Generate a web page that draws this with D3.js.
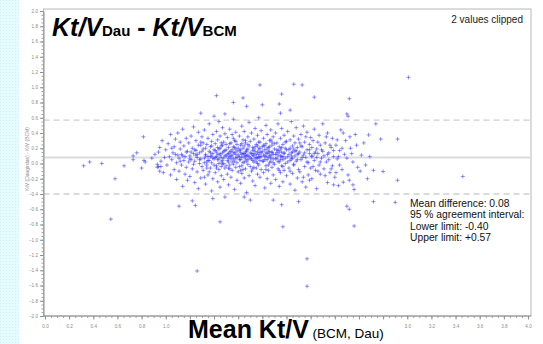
<!DOCTYPE html>
<html>
<head>
<meta charset="utf-8">
<script src="https://cdn.jsdelivr.net/npm/d3@7"></script>
<style>
  html, body { margin: 0; padding: 0; background: #fff; }
  svg { display: block; font-family: Arial, "Liberation Sans", sans-serif; }
</style>
</head>
<body>
<div id="chart"></div>
<script>
// Bland-Altman: Kt/V Daugirdas vs BCM
const meanDiff = 0.08;
const lowerLimit = -0.40;
const upperLimit = 0.57;
const statLines = [
  'Mean difference: 0.08',
  '95 % agreement interval:',
  'Lower limit:  -0.40',
  'Upper limit: +0.57'
];
// labels hidden under the axis title in the original are left out
const xTicks = [0.0, 0.2, 0.4, 0.6, 0.8, 1.0, 3.0, 3.2, 3.4, 3.6, 3.8, 4.0];
const xTickMarks = [0.0, 0.2, 0.4, 0.6, 0.8, 1.0, 1.2, 1.4, 1.6, 1.8, 2.0, 2.2, 2.4, 2.6, 2.8, 3.0, 3.2, 3.4, 3.6, 3.8, 4.0];
const yTicks = [-2.0, -1.8, -1.6, -1.4, -1.2, -1.0, -0.8, -0.6, -0.4, -0.2, 0.0, 0.2, 0.4, 0.6, 0.8, 1.0, 1.2, 1.4, 1.6, 1.8, 2.0];

// [mean Kt/V, difference]
const outliers = [
  [0.32, -0.03], [0.37, 0.02], [0.47, 0.00], [0.58, -0.20], [0.545, -0.73], [0.655, -0.03],
  [0.73, 0.05], [0.73, 0.10], [0.76, 0.14], [0.815, 0.35], [0.80, -0.06], [0.83, 0.02],
  [0.82, 0.04], [0.885, 0.07], [0.93, -0.01], [0.94, -0.04], [0.95, -0.10], [0.96, -0.04],
  [1.78, 1.03], [2.06, 1.04], [1.42, 0.89], [1.64, 0.86], [1.96, 0.91], [1.56, 0.80],
  [1.67, 0.75], [1.80, 0.77], [1.94, 0.78], [2.03, 0.70], [1.95, 0.66], [1.29, 0.66],
  [1.40, 0.62], [1.49, 0.65], [2.13, 1.03], [2.23, 0.87], [2.52, 0.85], [2.50, 0.65],
  [2.51, 0.62], [2.74, 0.52], [2.68, 0.375], [2.78, 0.32], [2.92, 0.32], [2.525, 0.35],
  [2.69, 0.09], [2.655, -0.02], [2.72, -0.09], [2.80, -0.105], [2.92, -0.22], [3.46, -0.17],
  [2.55, -0.28], [2.56, -0.34], [2.72, -0.50], [2.90, -0.51], [2.50, -0.56], [2.52, -0.60],
  [2.56, -0.82], [1.97, -0.83], [1.11, -0.56], [1.245, -0.55], [1.22, -0.49], [1.39, -0.46],
  [1.49, -0.44], [1.65, -0.44], [1.70, -0.48], [1.89, -0.48], [1.96, -0.54], [1.45, -0.765],
  [1.26, -1.41], [2.17, -1.25], [2.17, -1.61], [2.39, -0.28], [2.47, -0.245], [2.10, -0.50],
  [3.01, 1.13]
];

const cloud = [
  [0.91, 0.12], [0.93, -0.05], [0.95, 0.21], [0.96, 0.03], [0.97, 0.30], [0.98, -0.12], [0.99, 0.08], [0.94, 0.15],
  [1.00, 0.18], [1.01, -0.02], [1.02, 0.26], [1.03, 0.09], [1.04, -0.15], [1.04, 0.38], [1.05, 0.05], [1.06, 0.14],
  [1.07, -0.08], [1.07, 0.22], [1.08, 0.32], [1.09, 0.01], [1.09, -0.21], [1.10, 0.11],
  [1.10, 0.40], [1.11, 0.07], [1.11, -0.10], [1.12, 0.19], [1.12, 0.28], [1.13, -0.02], [1.13, 0.12], [1.14, -0.30],
  [1.14, 0.45], [1.15, 0.04], [1.15, 0.23], [1.16, -0.14], [1.16, 0.09], [1.17, 0.33], [1.17, -0.05], [1.18, 0.16],
  [1.18, -0.22], [1.19, 0.02], [1.19, 0.27], [1.20, 0.10],
  [1.20, -0.17], [1.21, 0.36], [1.21, 0.05], [1.22, 0.20], [1.22, -0.07], [1.23, 0.13], [1.23, 0.48], [1.24, -0.25],
  [1.24, 0.03], [1.25, 0.30], [1.25, 0.17], [1.26, -0.11], [1.26, 0.08], [1.27, 0.24], [1.27, -0.33], [1.27, 0.41],
  [1.28, 0.00], [1.28, 0.14], [1.29, -0.19], [1.29, 0.28], [1.29, 0.06], [1.30, 0.35], [1.30, -0.04], [1.25, 0.11],
  [1.23, -0.01], [1.21, 0.15],
  [1.31, 0.19], [1.31, -0.09], [1.32, 0.07], [1.32, 0.44], [1.33, -0.27], [1.33, 0.12], [1.34, 0.25], [1.34, -0.02],
  [1.35, 0.33], [1.35, 0.04], [1.35, -0.15], [1.36, 0.16], [1.36, 0.52], [1.37, -0.06], [1.37, 0.22], [1.37, 0.09],
  [1.38, -0.36], [1.38, 0.29], [1.38, 0.01], [1.39, 0.13], [1.39, -0.20], [1.39, 0.38], [1.40, 0.06], [1.40, 0.18],
  [1.33, 0.10], [1.34, 0.02], [1.36, -0.11], [1.31, 0.27], [1.32, -0.18], [1.38, 0.10],
  [1.41, -0.12], [1.41, 0.26], [1.41, 0.08], [1.42, 0.42], [1.42, -0.03], [1.42, 0.15], [1.43, -0.24], [1.43, 0.31],
  [1.43, 0.05], [1.44, 0.19], [1.44, -0.08], [1.44, 0.55], [1.45, 0.11], [1.45, -0.31], [1.45, 0.36], [1.46, 0.02],
  [1.46, 0.23], [1.46, -0.16], [1.47, 0.14], [1.47, 0.47], [1.47, -0.01], [1.48, 0.28], [1.48, 0.07], [1.48, -0.21],
  [1.49, 0.17], [1.49, 0.39], [1.49, -0.06], [1.50, 0.10], [1.50, 0.25], [1.43, 0.12], [1.45, 0.20], [1.46, -0.04],
  [1.48, 0.00], [1.44, 0.06],
  [1.51, -0.14], [1.51, 0.34], [1.51, 0.04], [1.52, 0.21], [1.52, -0.28], [1.52, 0.13], [1.53, 0.45], [1.53, -0.02],
  [1.53, 0.09], [1.54, 0.27], [1.54, -0.18], [1.54, 0.16], [1.55, 0.02], [1.55, 0.38], [1.55, -0.09], [1.56, 0.22],
  [1.56, 0.58], [1.56, 0.06], [1.57, -0.34], [1.57, 0.14], [1.57, 0.30], [1.58, -0.05], [1.58, 0.19], [1.58, 0.41],
  [1.59, 0.08], [1.59, -0.22], [1.59, 0.25], [1.60, 0.11], [1.60, -0.11], [1.52, 0.07], [1.54, 0.11], [1.55, 0.18],
  [1.57, 0.03], [1.58, 0.12], [1.53, -0.07], [1.56, 0.33],
  [1.61, 0.17], [1.61, -0.04], [1.61, 0.36], [1.62, 0.05], [1.62, -0.26], [1.62, 0.24], [1.63, 0.12], [1.63, 0.49],
  [1.63, -0.13], [1.64, 0.20], [1.64, 0.01], [1.64, 0.31], [1.65, -0.19], [1.65, 0.09], [1.65, 0.42], [1.66, 0.15],
  [1.66, -0.07], [1.66, 0.27], [1.67, 0.03], [1.67, -0.38], [1.67, 0.18], [1.68, 0.35], [1.68, -0.01], [1.68, 0.11],
  [1.69, 0.23], [1.69, -0.16], [1.69, 0.54], [1.70, 0.07], [1.70, 0.29], [1.62, 0.14], [1.64, -0.08], [1.66, 0.06],
  [1.68, 0.19], [1.63, 0.26], [1.65, 0.13], [1.67, 0.10],
  [1.71, -0.10], [1.71, 0.13], [1.71, 0.40], [1.72, 0.21], [1.72, -0.23], [1.72, 0.04], [1.73, 0.32], [1.73, 0.10],
  [1.73, -0.05], [1.74, 0.46], [1.74, 0.16], [1.74, -0.29], [1.75, 0.02], [1.75, 0.25], [1.75, 0.12], [1.76, -0.14],
  [1.76, 0.37], [1.76, 0.07], [1.77, 0.19], [1.77, -0.02], [1.77, 0.60], [1.78, 0.28], [1.78, -0.18], [1.78, 0.09],
  [1.79, 0.14], [1.79, 0.43], [1.79, -0.08], [1.80, 0.22], [1.80, 0.03], [1.72, 0.11], [1.74, 0.06], [1.75, -0.06],
  [1.76, 0.23], [1.78, 0.15], [1.73, 0.19], [1.77, 0.08],
  [1.81, 0.33], [1.81, -0.12], [1.81, 0.11], [1.82, 0.18], [1.82, -0.32], [1.82, 0.05], [1.83, 0.26], [1.83, 0.50],
  [1.83, -0.03], [1.84, 0.13], [1.84, -0.20], [1.84, 0.38], [1.85, 0.08], [1.85, 0.21], [1.85, -0.09], [1.86, 0.30],
  [1.86, 0.01], [1.86, 0.16], [1.87, -0.26], [1.87, 0.44], [1.87, 0.10], [1.88, 0.24], [1.88, -0.05], [1.88, 0.14],
  [1.89, 0.35], [1.89, -0.15], [1.89, 0.06], [1.90, 0.19], [1.90, -0.01], [1.83, 0.09], [1.85, 0.15], [1.87, 0.03],
  [1.82, 0.23], [1.88, 0.28],
  [1.91, 0.12], [1.91, -0.21], [1.91, 0.40], [1.92, 0.07], [1.92, 0.27], [1.93, -0.07], [1.93, 0.17], [1.93, 0.52],
  [1.94, 0.02], [1.94, -0.30], [1.94, 0.22], [1.95, 0.33], [1.95, 0.10], [1.95, -0.12], [1.96, 0.15], [1.96, 0.46],
  [1.96, -0.03], [1.97, 0.25], [1.97, 0.05], [1.97, -0.24], [1.98, 0.37], [1.98, 0.13], [1.98, -0.09], [1.99, 0.20],
  [1.99, 0.00], [2.00, 0.29], [2.00, -0.16], [1.92, 0.14], [1.95, 0.19], [1.97, 0.09],
  [2.01, 0.09], [2.01, 0.42], [2.02, -0.06], [2.02, 0.18], [2.03, 0.31], [2.03, -0.27], [2.03, 0.04], [2.04, 0.14],
  [2.04, 0.55], [2.05, -0.13], [2.05, 0.23], [2.05, 0.07], [2.06, 0.36], [2.06, -0.02], [2.07, 0.16], [2.07, -0.35],
  [2.07, 0.27], [2.08, 0.03], [2.08, 0.47], [2.09, -0.19], [2.09, 0.12], [2.09, 0.21], [2.10, 0.32], [2.10, -0.08],
  [2.04, 0.10], [2.06, 0.19],
  [2.11, 0.15], [2.11, -0.11], [2.12, 0.38], [2.12, 0.05], [2.13, -0.24], [2.13, 0.22], [2.14, 0.11], [2.14, 0.49],
  [2.15, -0.04], [2.15, 0.28], [2.16, 0.08], [2.16, -0.31], [2.17, 0.18], [2.17, 0.41], [2.18, 0.01], [2.18, -0.15],
  [2.19, 0.25], [2.19, 0.13], [2.20, -0.06], [2.20, 0.34],
  [2.21, 0.10], [2.21, -0.20], [2.22, 0.30], [2.23, 0.04], [2.23, 0.45], [2.24, -0.09], [2.25, 0.19], [2.25, -0.33],
  [2.26, 0.13], [2.27, 0.37], [2.27, -0.02], [2.28, 0.24], [2.28, -0.14], [2.29, 0.07], [2.30, 0.52], [2.30, 0.16],
  [2.31, -0.07], [2.32, 0.27], [2.33, 0.02], [2.34, -0.25], [2.34, 0.40], [2.35, 0.14], [2.36, -0.12], [2.37, 0.21],
  [2.38, 0.33], [2.38, -0.03], [2.39, 0.09], [2.40, -0.18],
  [2.41, 0.24], [2.42, 0.06], [2.43, -0.29], [2.44, 0.17], [2.45, 0.44], [2.46, -0.08], [2.48, 0.12], [2.49, 0.30],
  [2.51, -0.15], [2.53, 0.20], [2.55, 0.02], [2.57, 0.38], [2.59, -0.05],
  [2.62, 0.11], [2.64, 0.27], [2.67, -0.20]
];

// the densest band around the mean line
const core = [
  [1.26, 0.12], [1.28, 0.05], [1.30, 0.16], [1.32, 0.01], [1.33, 0.20], [1.35, 0.09], [1.36, 0.04], [1.37, 0.14],
  [1.39, 0.07], [1.40, -0.02], [1.41, 0.17], [1.42, 0.09], [1.43, 0.21], [1.44, 0.00], [1.45, 0.13], [1.46, 0.08],
  [1.47, 0.24], [1.47, 0.04], [1.48, 0.16], [1.49, 0.10], [1.50, -0.03], [1.50, 0.18], [1.51, 0.12], [1.52, 0.02],
  [1.53, 0.15], [1.53, 0.26], [1.54, 0.06], [1.55, 0.10], [1.56, -0.01], [1.56, 0.14], [1.57, 0.21], [1.58, 0.07],
  [1.59, 0.16], [1.59, 0.01], [1.60, 0.20], [1.61, 0.09], [1.61, 0.05], [1.62, 0.18], [1.63, -0.03], [1.63, 0.08],
  [1.64, 0.13], [1.65, 0.23], [1.65, 0.02], [1.66, 0.11], [1.67, 0.16], [1.68, 0.05], [1.68, 0.25], [1.69, 0.09],
  [1.70, 0.14], [1.70, -0.04], [1.71, 0.06], [1.72, 0.17], [1.73, 0.02], [1.73, 0.13], [1.74, 0.22], [1.75, 0.08],
  [1.76, 0.15], [1.76, 0.00], [1.77, 0.12], [1.78, 0.04], [1.78, 0.20], [1.79, 0.09], [1.80, 0.16], [1.81, 0.03],
  [1.81, 0.24], [1.82, 0.10], [1.83, 0.14], [1.84, 0.05], [1.84, 0.19], [1.85, -0.02], [1.86, 0.11], [1.86, 0.22],
  [1.87, 0.07], [1.88, 0.15], [1.89, 0.01], [1.89, 0.12], [1.90, 0.26], [1.91, 0.06], [1.92, 0.18], [1.93, 0.03],
  [1.93, 0.11], [1.94, 0.15], [1.95, 0.05], [1.96, 0.21], [1.96, 0.09], [1.97, -0.04], [1.98, 0.14], [1.99, 0.07],
  [2.00, 0.18], [2.01, 0.02], [2.02, 0.12], [2.03, 0.20], [2.04, 0.06], [2.05, 0.15], [2.06, -0.01], [2.07, 0.10],
  [2.08, 0.17], [2.09, 0.05], [2.10, 0.13], [2.12, 0.23], [2.13, 0.08], [2.15, 0.14], [2.17, 0.02], [2.19, 0.18],
  [2.21, 0.09], [2.23, 0.13], [1.38, 0.23], [1.42, -0.06], [1.46, 0.27], [1.52, -0.06], [1.58, 0.29], [1.62, -0.09],
  [1.66, 0.30], [1.72, -0.07], [1.77, 0.28], [1.83, -0.08], [1.87, 0.31], [1.94, -0.09], [1.99, 0.28], [2.03, -0.10],
  [2.11, 0.27], [1.34, -0.06], [1.29, 0.24], [1.24, 0.18], [1.20, 0.06], [1.17, 0.15], [1.14, 0.10], [1.12, 0.03],
  [1.08, 0.12], [1.05, 0.20]
];

// right-hand shoulder of the cloud, 2.1 to 2.6
const shoulder = [
  [2.21, 0.21], [2.22, -0.04], [2.24, 0.15], [2.26, 0.28], [2.26, -0.10], [2.29, 0.18], [2.31, 0.10], [2.32, -0.16],
  [2.33, 0.35], [2.35, 0.05], [2.36, 0.24], [2.37, -0.07], [2.39, 0.17], [2.41, -0.12], [2.42, 0.31], [2.43, 0.09],
  [2.44, -0.02], [2.46, 0.20], [2.47, 0.40], [2.50, 0.07], [2.52, -0.22], [2.54, 0.13], [2.58, 0.24], [2.61, -0.10],
  [2.25, 0.08], [2.28, 0.02], [2.34, 0.12], [2.19, -0.22], [2.16, 0.35], [2.14, -0.18]
];

const points = outliers.concat(cloud, core, shoulder);

const W = 543, H = 344;
const frame = { left: 43.5, right: 531, top: 9, bottom: 316 };

const svg = d3.select('#chart').append('svg')
  .attr('width', W)
  .attr('height', H);

// light cyan checker strip on the left edge
const defs = svg.append('defs');
const pat = defs.append('pattern')
  .attr('id', 'checks')
  .attr('width', 3)
  .attr('height', 3)
  .attr('patternUnits', 'userSpaceOnUse');
pat.append('rect').attr('width', 3).attr('height', 3).attr('fill', '#e6fbfd');
pat.append('rect').attr('width', 1).attr('height', 1).attr('fill', '#c9f1f6');
svg.append('rect').attr('x', 0).attr('y', 0).attr('width', 19).attr('height', H).attr('fill', 'url(#checks)');

defs.append('clipPath').attr('id', 'plotClip')
  .append('rect')
  .attr('x', frame.left).attr('y', frame.top)
  .attr('width', frame.right - frame.left).attr('height', frame.bottom - frame.top);

const x = d3.scaleLinear().domain([0, 4]).range([45, 528]);
const y = d3.scaleLinear().domain([-2, 2]).range([316, 11]);

// frame
svg.append('rect')
  .attr('x', frame.left).attr('y', frame.top)
  .attr('width', frame.right - frame.left).attr('height', frame.bottom - frame.top)
  .attr('fill', 'none')
  .attr('stroke', '#b8b8b8')
  .attr('stroke-width', 1);

// reference lines
svg.append('line')
  .attr('x1', frame.left).attr('x2', frame.right)
  .attr('y1', y(meanDiff)).attr('y2', y(meanDiff))
  .attr('stroke', '#dcdcdc')
  .attr('stroke-width', 2);

svg.selectAll('.limit')
  .data([lowerLimit, upperLimit])
  .enter()
  .append('line')
  .attr('class', 'limit')
  .attr('x1', frame.left).attr('x2', frame.right)
  .attr('y1', (d) => y(d)).attr('y2', (d) => y(d))
  .attr('stroke', '#cfcfcf')
  .attr('stroke-width', 1.3)
  .attr('stroke-dasharray', '6 4');

// points
svg.append('g')
  .attr('clip-path', 'url(#plotClip)')
  .selectAll('path')
  .data(points)
  .enter()
  .append('path')
  .attr('transform', (d) => `translate(${x(d[0])},${y(d[1])})`)
  .attr('d', 'M-2,0H2M0,-2V2')
  .attr('fill', 'none')
  .attr('stroke', '#2a2aff')
  .attr('stroke-opacity', 0.5)
  .attr('stroke-width', 1);

// axes
const styleAxis = (g) => {
  g.select('.domain').attr('stroke', '#909090');
  g.selectAll('.tick line').attr('stroke', '#909090');
  g.selectAll('.tick text').attr('fill', '#8a8a8a').style('font-size', '4.6px');
};

const yMinor = d3.range(-2, 2.001, 0.05);
const xMinor = d3.range(0, 4.001, 0.05);

svg.append('g')
  .attr('transform', `translate(${frame.left},0)`)
  .call(d3.axisLeft(y).tickValues(yMinor).tickSize(2).tickFormat(''))
  .call((g) => g.select('.domain').remove())
  .call((g) => g.selectAll('line').attr('stroke', '#a0a0a0'));

svg.append('g')
  .attr('transform', `translate(${frame.left},0)`)
  .call(d3.axisLeft(y).tickValues(yTicks).tickSize(3.5).tickPadding(2).tickFormat(d3.format('.1f')).tickSizeOuter(0))
  .call(styleAxis);

svg.append('g')
  .attr('transform', `translate(0,${frame.bottom})`)
  .call(d3.axisBottom(x).tickValues(xMinor).tickSize(2).tickFormat(''))
  .call((g) => g.select('.domain').remove())
  .call((g) => g.selectAll('line').attr('stroke', '#a0a0a0'));

svg.append('g')
  .attr('transform', `translate(0,${frame.bottom})`)
  .call(d3.axisBottom(x).tickValues(xTickMarks).tickSize(3.5).tickFormat('').tickSizeOuter(0))
  .call(styleAxis)
  .call((g) => g.select('.domain').attr('d', `M${frame.left},0H${frame.right}`));

svg.append('g')
  .attr('transform', `translate(0,${frame.bottom})`)
  .call(d3.axisBottom(x).tickValues(xTicks).tickSize(0).tickPadding(9).tickFormat(d3.format('.1f')))
  .call(styleAxis)
  .call((g) => g.select('.domain').remove());

// y axis title
svg.append('text')
  .attr('transform', 'translate(29,159) rotate(-90)')
  .attr('text-anchor', 'middle')
  .attr('fill', '#8a8a8a')
  .style('font-size', '5px')
  .text('KtV (Daugirdas) - KtV (BCM)');

// x axis title
const xt = svg.append('text')
  .attr('x', 188)
  .attr('y', 338)
  .attr('fill', '#000');
xt.append('tspan').style('font-size', '25px').style('font-weight', 'bold').text('Mean Kt/V');
xt.append('tspan').style('font-size', '13.5px').text(' (BCM, Dau)');

// chart title
const tt = svg.append('text')
  .attr('x', 52)
  .attr('y', 36)
  .attr('fill', '#000')
  .style('font-weight', 'bold');
tt.append('tspan').style('font-size', '25px').style('font-style', 'italic').text('Kt/V');
tt.append('tspan').style('font-size', '15px').text('Dau');
tt.append('tspan').style('font-size', '25px').text(' - ');
tt.append('tspan').style('font-size', '25px').style('font-style', 'italic').text('Kt/V');
tt.append('tspan').style('font-size', '15px').text('BCM');

svg.append('text')
  .attr('x', 523)
  .attr('y', 23)
  .attr('text-anchor', 'end')
  .attr('fill', '#222')
  .style('font-size', '10px')
  .text('2 values clipped');

svg.append('g')
  .selectAll('text')
  .data(statLines)
  .enter()
  .append('text')
  .attr('x', 410)
  .attr('y', (d, i) => 206.5 + i * 11.6)
  .attr('fill', '#111')
  .style('font-size', '10.3px')
  .text((d) => d);
</script>
</body>
</html>
